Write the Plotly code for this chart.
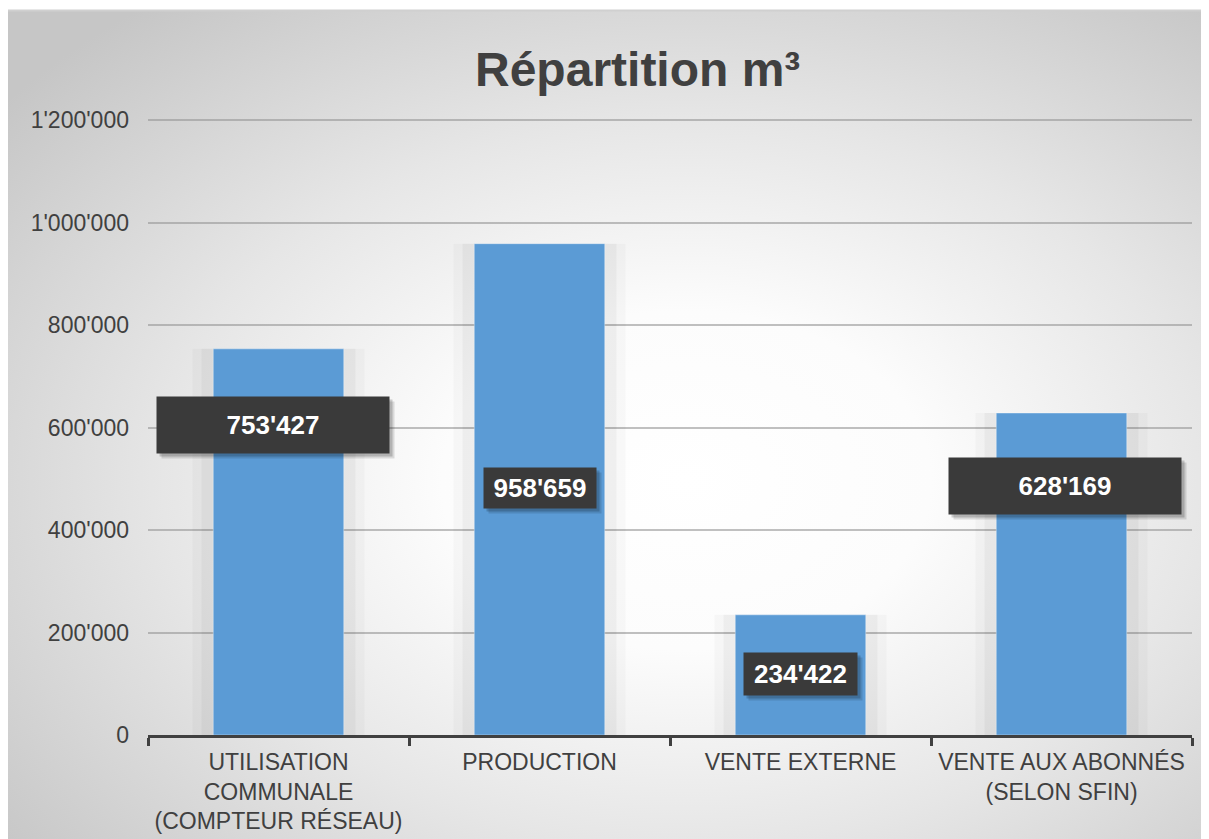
import base64
import plotly.graph_objects as go

# ---- data ----
categories = [
    "UTILISATION<br>COMMUNALE<br>(COMPTEUR RÉSEAU)",
    "PRODUCTION",
    "VENTE EXTERNE",
    "VENTE AUX ABONNÉS<br>(SELON SFIN)",
]
values = [753427, 958659, 234422, 628169]
y_ticks = [0, 200000, 400000, 600000, 800000, 1000000, 1200000]
title_text = "Répartition m³"

# ---- layout helpers (positions / styles) ----
W, H = 1209, 839
OFF = 8  # page body margin
def px(x):
    return (x - OFF) / W
def py(y):
    return 1 - (y - OFF) / H

label_frac = [0.803, 0.503, 0.508, 0.775]
label_w = [232, 112, 113, 232]
label_h = [56, 40, 42, 56]
label_dx = [-6, 0, 0, 3]

FONT = "Liberation Sans, Arial, sans-serif"
TXT = "#404040"

svg = '''<svg xmlns="http://www.w3.org/2000/svg" width="1202" height="829" viewBox="0 0 1202 829" preserveAspectRatio="none">
<defs><radialGradient id="g" cx="0.56" cy="0.56" r="0.72" fx="0.56" fy="0.56">
<stop offset="0" stop-color="#ffffff"/>
<stop offset="0.28" stop-color="#fcfcfc"/>
<stop offset="0.6" stop-color="#e6e6e6"/>
<stop offset="1" stop-color="#c6c6c6"/>
</radialGradient></defs>
<rect x="0" y="0" width="1202" height="829" fill="url(#g)"/>
</svg>'''
src = "data:image/svg+xml;base64," + base64.b64encode(svg.encode()).decode()

fig = go.Figure()

# soft halo behind bars
for wdt, alpha in [(0.66, 0.025), (0.59, 0.035)]:
    fig.add_trace(go.Bar(x=categories, y=values, width=wdt,
                         marker=dict(color=f"rgba(0,0,0,{alpha})", line=dict(width=0)),
                         hoverinfo="skip", showlegend=False))

fig.add_trace(go.Bar(x=categories, y=values, width=0.5,
                     marker=dict(color="#5b9bd5",
                                 line=dict(color="rgba(255,255,255,0.35)", width=1)),
                     showlegend=False))

annotations = []
for i, (c, v) in enumerate(zip(categories, values)):
    txt = f"{v:,}".replace(",", "'")
    yv = v * label_frac[i]
    for sx, sy, a in [(5, -5, 0.12), (3, -3, 0.18)]:
        annotations.append(dict(x=c, y=yv, xref="x", yref="y", text="",
                                showarrow=False, width=label_w[i], height=label_h[i],
                                bgcolor=f"rgba(0,0,0,{a})", borderpad=0,
                                xshift=label_dx[i] + sx, yshift=sy))
    annotations.append(dict(x=c, y=yv, xref="x", yref="y", text=f"<b>{txt}</b>",
                            showarrow=False, width=label_w[i], height=label_h[i],
                            bgcolor="#3a3a3a", borderpad=0, xshift=label_dx[i],
                            font=dict(family=FONT, size=26, color="#ffffff")))

annotations.append(dict(x=px(637), y=py(70), xref="paper", yref="paper",
                        text=f"<b>{title_text}</b>", showarrow=False,
                        xanchor="center", yanchor="middle",
                        font=dict(family=FONT, size=48, color=TXT)))

extra = 1.01
ymax = 1200000 * extra
top_px = 735 - 615 * extra
fig.update_layout(
    width=W, height=H,
    margin=dict(l=0, r=0, t=0, b=0),
    paper_bgcolor="#ffffff",
    plot_bgcolor="rgba(0,0,0,0)",
    barmode="overlay",
    separators=".'",
    font=dict(family=FONT, size=23, color=TXT),
    images=[dict(source=src, xref="paper", yref="paper", x=px(7), y=py(10),
                 sizex=px(1220) - px(7), sizey=py(10) - py(850),
                 xanchor="left", yanchor="top", sizing="stretch", layer="below")],
    shapes=[dict(type="line", xref="paper", yref="paper",
                 x0=px(7), x1=px(7), y0=py(10), y1=py(850),
                 line=dict(color="#c4c4c4", width=2), layer="below"),
            dict(type="line", xref="paper", yref="paper",
                 x0=px(7), x1=px(1220), y0=py(10.5), y1=py(10.5),
                 line=dict(color="#d0d0d0", width=2), layer="below")],
    annotations=annotations,
    xaxis=dict(domain=[px(148), px(1192)], range=[-0.5, 3.5],
               showline=True, linecolor="#404040", linewidth=3,
               ticks="outside", tickson="boundaries", ticklen=8, tickwidth=3,
               tickcolor="#404040", showgrid=False, automargin=False,
               ticklabelstandoff=4,
               tickfont=dict(family=FONT, size=23, color=TXT)),
    yaxis=dict(domain=[py(735), py(top_px)], range=[0, ymax],
               tickvals=y_ticks, tickformat=",d", showline=False, zeroline=False,
               showgrid=True, gridcolor="rgba(150,150,150,0.6)", gridwidth=1.5,
               ticks="", ticklabelstandoff=18, automargin=False,
               tickfont=dict(family=FONT, size=23, color=TXT)),
)

fig.write_html("out.html")
